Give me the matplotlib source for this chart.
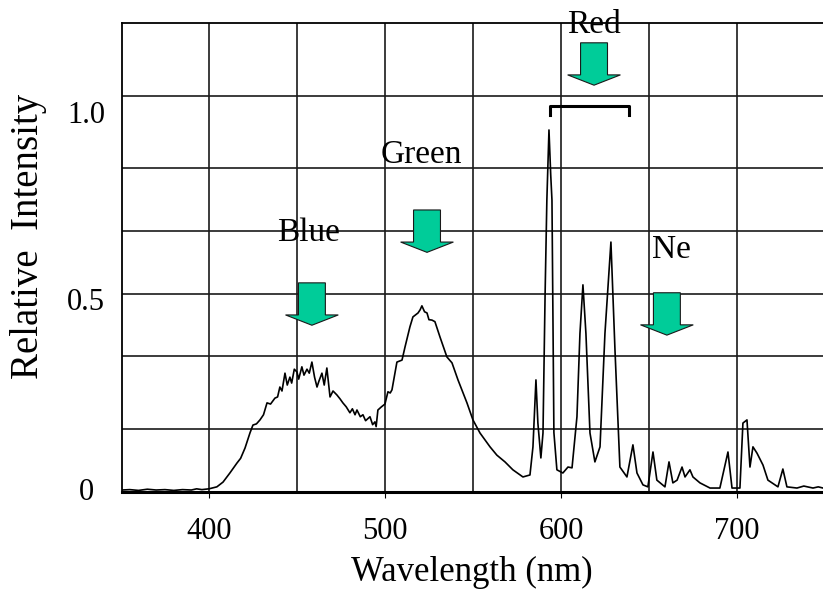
import matplotlib
matplotlib.use('Agg')
import matplotlib.pyplot as plt
from matplotlib.patches import Polygon
from matplotlib.transforms import blended_transform_factory, ScaledTranslation

# spectrum: wavelength (nm) and relative intensity
wavelength = [350.6, 355, 360, 365, 370, 375, 380, 385, 390, 393, 396, 400,
              404.5, 408, 411.9, 415.9, 418, 420.5, 423.3, 425, 427, 429, 431, 433,
              435, 437.5, 439, 440.3, 441.5, 443.2, 444.5, 446, 447, 448.5, 450, 451,
              452.8, 454, 455.7, 457, 458.5, 460, 461.4, 462.5, 464.2, 465.5, 467,
              468.8, 470.5, 472.7, 474.5, 476.1, 478, 480.1, 481.5, 483, 484.1, 486,
              487.5, 489, 491.5, 493, 494.3, 495, 496, 498, 500, 501.7, 503, 504,
              506.8, 509.7, 511.4, 514.2, 515.9, 518.8, 520, 521, 522.5, 523.9, 525,
              526.7, 528.4, 531.3, 535.2, 538.1, 541.5, 546.6, 550, 554, 559.7, 563.6,
              568.2, 572.7, 578.4, 582.4, 584.1, 585.8, 586.9, 588.6, 589.8, 591, 592,
              593.2, 594.2, 594.9, 596, 597.7, 601.1, 604, 606.3, 609.1, 610.8, 612.5,
              614.2, 616.5, 619.3, 622.2, 625, 628.4, 630.7, 633.5, 637.5, 640.9, 643.2,
              646.6, 649.4, 652.3, 654.5, 659.1, 661.4, 663.6, 666, 668.8, 670.5, 673.3,
              675, 679, 684.7, 690.3, 694.9, 697.2, 701.7, 703.4, 705.7, 707.4, 709.1,
              711.4, 714.8, 717.6, 723.3, 726.1, 728.4, 734.1, 738, 743.2, 746.2, 748.9]
intensity = [0.005, 0.006, 0.004, 0.007, 0.005, 0.006, 0.004, 0.006, 0.005, 0.008, 0.006, 0.008,
             0.013, 0.025, 0.048, 0.073, 0.085, 0.111, 0.149, 0.169, 0.172, 0.182, 0.195, 0.225,
             0.222, 0.237, 0.240, 0.265, 0.255, 0.30, 0.27, 0.29, 0.275, 0.31, 0.303, 0.285,
             0.316, 0.295, 0.31, 0.30, 0.328, 0.29, 0.265, 0.28, 0.30, 0.27, 0.313,
             0.24, 0.255, 0.245, 0.235, 0.225, 0.215, 0.20, 0.21, 0.195, 0.207, 0.19,
             0.195, 0.18, 0.19, 0.17, 0.177, 0.165, 0.207, 0.215, 0.222, 0.253, 0.25, 0.258,
             0.328, 0.333, 0.366, 0.417, 0.442, 0.452, 0.46, 0.47, 0.455, 0.452, 0.435,
             0.434, 0.43, 0.391, 0.341, 0.326, 0.283, 0.225, 0.182, 0.149, 0.114, 0.093,
             0.076, 0.056, 0.038, 0.043, 0.114, 0.283, 0.174, 0.086, 0.149, 0.5, 0.737,
             0.914, 0.80, 0.737, 0.15, 0.056, 0.048, 0.063, 0.061, 0.19, 0.40, 0.523,
             0.40, 0.149, 0.076, 0.114, 0.40, 0.631, 0.359, 0.063, 0.038, 0.119, 0.048,
             0.018, 0.013, 0.101, 0.03, 0.013, 0.076, 0.023, 0.03, 0.063, 0.038, 0.056,
             0.038, 0.023, 0.01, 0.01, 0.101, 0.01, 0.01, 0.174, 0.182, 0.063, 0.114,
             0.098, 0.068, 0.03, 0.013, 0.058, 0.013, 0.01, 0.015, 0.01, 0.013, 0.01]

x_ticks = [400, 500, 600, 700]
y_ticks = [0, 0.5, 1.0]
y_tick_labels = ['0', '0.5', '1.0']
v_grid = [400, 450, 500, 550, 600, 650, 700]
h_grid = [0.159, 0.343, 0.5, 0.659, 0.818, 1.0]

band_names = ['Blue', 'Green', 'Red', 'Ne']
band_text_xy = [(456.3, 0.654), (520.5, 0.851), (618.8, 1.180), (663.0, 0.611)]
band_arrow_xy = [(458.5, 0.528), (523.9, 0.712), (618.8, 1.134), (660.2, 0.503)]
red_range = [593.8, 638.6]

serif = ['Liberation Serif', 'DejaVu Serif']
plt.rcParams['font.family'] = serif

fig = plt.figure(figsize=(8.23, 5.96), dpi=100)
ax = fig.add_axes([122/823, 104/596, 701/823, 469/596])
ax.set_xlim(350.6, 748.9)
ax.set_ylim(0, 1.184)

for g in v_grid:
    ax.axvline(g, color='#1a1a1a', lw=1.2, zorder=1)
for g in h_grid:
    ax.axhline(g, color='#1a1a1a', lw=1.2, zorder=1)

ax.plot(wavelength, intensity, color='black', lw=1.2, zorder=3)

ax.spines['right'].set_visible(False)
for s in ['left', 'top']:
    ax.spines[s].set_linewidth(1.3)
ax.spines['bottom'].set_linewidth(2.2)

ax.set_xticks(x_ticks)
ax.set_xticklabels([str(t) for t in x_ticks], fontsize=22)
ax.tick_params(axis='x', length=4, direction='out', pad=14)
ax.set_yticks([])

# y tick labels sit a little below their values in the original
trans = blended_transform_factory(ax.transAxes, ax.transData)
y_shift = [0, -9, -20]
for v, lab, dy in zip(y_ticks, y_tick_labels, y_shift):
    tr = trans + ScaledTranslation(0, dy/100, fig.dpi_scale_trans)
    ax.text(-36/701, v, lab, transform=tr, ha='center', va='center', fontsize=22)

ax.set_xlabel('Wavelength (nm)', fontsize=25)
ax.xaxis.set_label_coords(0.499, -0.171)
ax.xaxis.label.set_va('center')
ax.set_ylabel('Relative  Intensity', fontsize=28)
ax.yaxis.set_label_coords(-0.134, 0.544)
ax.yaxis.label.set_va('center')

def down_arrow(cx, top):
    sw, hw, sh, hh = 15.3, 30.0, 0.081, 0.026
    pts = [(cx - sw/2, top), (cx + sw/2, top), (cx + sw/2, top - sh),
           (cx + hw/2, top - sh), (cx, top - sh - hh), (cx - hw/2, top - sh),
           (cx - sw/2, top - sh)]
    ax.add_patch(Polygon(pts, closed=True, facecolor='#00CC99',
                         edgecolor='#1a1a1a', lw=0.8, zorder=5, clip_on=False))

for name, (tx, ty), (axx, ay) in zip(band_names, band_text_xy, band_arrow_xy):
    ax.text(tx, ty, name, ha='center', va='center', fontsize=24, zorder=6, clip_on=False)
    down_arrow(axx, ay)

# bracket over the red lines
ax.plot([red_range[0], red_range[0], red_range[1], red_range[1]],
        [0.952, 0.975, 0.975, 0.952], color='black', lw=2.2, zorder=4)

fig.savefig('out.png', dpi=100)
